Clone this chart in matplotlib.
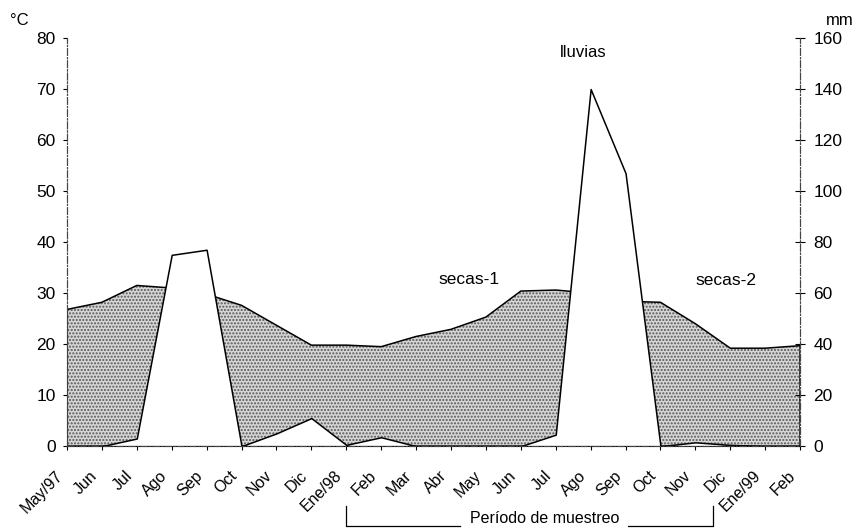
import numpy as np
import matplotlib

matplotlib.use('Agg')
import matplotlib.pyplot as plt
from matplotlib.transforms import ScaledTranslation

plt.rcParams['font.family'] = ['Liberation Sans', 'DejaVu Sans']
plt.rcParams['hatch.linewidth'] = 1.0

# monthly data, May/97 - Feb/99
months = ['May/97', 'Jun', 'Jul', 'Ago', 'Sep', 'Oct', 'Nov', 'Dic', 'Ene/98', 'Feb', 'Mar',
          'Abr', 'May', 'Jun', 'Jul', 'Ago', 'Sep', 'Oct', 'Nov', 'Dic', 'Ene/99', 'Feb']
temperature = [26.8, 28.2, 31.5, 31.0, 29.8, 27.6, 23.7, 19.8, 19.8, 19.5, 21.5,
               22.9, 25.3, 30.4, 30.6, 30.0, 28.4, 28.2, 24.0, 19.2, 19.2, 19.7]
precipitation = [0, 0, 3, 75, 77, 0, 5, 11, 0.5, 3.5, 0,
                 0, 0, 0, 4.5, 140, 107, 0, 1.5, 0.5, 0, 0]

x = np.arange(len(months))

# create figure with the two axes
fig, ax = plt.subplots(figsize=(8.53, 5.28), dpi=100)
fig.subplots_adjust(left=0.0785, right=0.938, bottom=0.155, top=0.928)
ax2 = ax.twinx()

# temperature area (stippled)
ax.fill_between(x, 0, temperature, facecolor='#d6d6d6', edgecolor='#555555',
                hatch='.....', linewidth=0)
ax.fill_between(x, 0, temperature, facecolor='none', edgecolor='black', linewidth=1.1)

# precipitation area drawn on top in white
ax2.fill_between(x, 0, precipitation, facecolor='white', edgecolor='black', linewidth=1.1)

# axes limits and ticks
ax.set_xlim(0, len(months) - 1)
ax.set_ylim(0, 80)
ax2.set_ylim(0, 160)
ax.set_yticks(np.arange(0, 81, 10))
ax2.set_yticks(np.arange(0, 161, 20))
ax.set_xticks(x)
ax.set_xticklabels(months, rotation=45, ha='right', va='top', rotation_mode='anchor')

ax.tick_params(axis='y', direction='out', length=3, width=0.8, labelsize=12.5, pad=5)
ax2.tick_params(axis='y', direction='inout', length=7, width=0.8, labelsize=12.5, pad=6)
ax.tick_params(axis='x', direction='out', length=3, width=0.8, labelsize=11.5, pad=4)

# shift month labels down and left
offset = ScaledTranslation(-0.12, -0.12, fig.dpi_scale_trans)
for label in ax.get_xticklabels():
    label.set_transform(label.get_transform() + offset)

for a in (ax, ax2):
    a.spines['top'].set_visible(False)
    for side in ('left', 'right', 'bottom'):
        a.spines[side].set_linestyle((0, (6, 2, 1, 2)))
        a.spines[side].set_linewidth(0.8)
        a.spines[side].set_color('#444444')
ax.set_zorder(0)
ax2.set_zorder(1)
ax2.patch.set_visible(False)

# unit labels
fig.text(0.012, 0.962, '°C', fontsize=12, ha='left', va='center')
fig.text(0.968, 0.962, 'mm', fontsize=12, ha='left', va='center')

# period annotations
ax.text(14.78, 77.2, 'lluvias', fontsize=12, ha='center', va='center')
ax.text(11.52, 32.7, 'secas-1', fontsize=12.5, ha='center', va='center')
ax.text(18.88, 32.5, 'secas-2', fontsize=12.5, ha='center', va='center')

# sampling period bracket below the axis
trans = ax.get_xaxis_transform()
y_low = -0.195
y_high = -0.147
ax.plot([8, 8, 11.26], [y_high, y_low, y_low], color='black', linewidth=0.9,
        transform=trans, clip_on=False)
ax.plot([16.07, 18.5, 18.5], [y_low, y_low, y_high], color='black', linewidth=0.9,
        transform=trans, clip_on=False)
ax.text(13.67, y_low + 0.006, 'Período de muestreo', fontsize=11.5, ha='center', va='baseline',
        transform=trans)

plt.savefig('out.png', dpi=100)
